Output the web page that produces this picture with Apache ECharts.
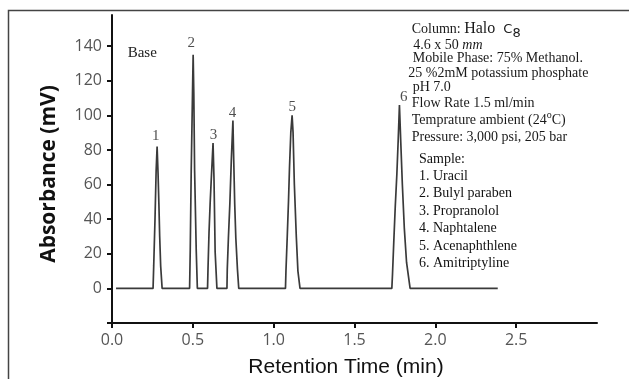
<!DOCTYPE html>
<html><head><meta charset="utf-8">
<script src="https://cdn.jsdelivr.net/npm/echarts@6/dist/echarts.min.js"></script>
<style>html,body{margin:0;padding:0;background:#fff}#c{width:629px;height:379px}</style>
</head><body><div id="c"></div>
<script>
// Chromatogram trace (retention time in min, absorbance in mV)
const traceTime = [0.025,
  0.254,0.258,0.266,0.273,0.279,0.285,0.290,0.295,0.301,0.310,
  0.480,0.484,0.490,0.498,0.502,0.506,0.511,0.521,0.528,
  0.591,0.594,0.600,0.607,0.614,0.625,0.631,0.638,0.649,
  0.711,0.713,0.720,0.729,0.738,0.748,0.753,0.759,0.766,0.776,0.784,
  1.073,1.076,1.084,1.092,1.098,1.106,1.114,1.120,1.128,1.140,1.150,1.163,
  1.731,1.735,1.743,1.752,1.762,1.770,1.778,1.786,1.796,1.808,1.822,1.844,
  2.386];
const traceAbs = [0,
  0,13,40,68,82,66,49,30,13,0,
  0,22,68,113,135,113,68,22,0,
  0,12,32,49,63,84,63,21,0,
  0,11,29,49,74,97,74,49,29,11,0,
  0,10,30,51,70,90,100,90,60,30,10,0,
  0,8,27,47,66,85,106,85,60,35,15,0,
  0];
// Peak number labels
const peakNames = ['1','2','3','4','5','6'];
const peakLabelTime = [0.271,0.490,0.628,0.746,1.115,1.805];
const peakLabelAbs = [88,141.6,88.6,101.5,105,110.6];
// Axis ticks
const xTicks = [0,0.5,1.0,1.5,2.0,2.5];
const yTicks = [0,20,40,60,80,100,120,140];
const yTickMarks = [-20,0,20,40,60,80,100,120,140];
// Annotation text
const baseText = 'Base';
const infoLines = [
  '{t|Column: }{h|Halo }{c|C}{s|8}',
  '{t|4.6 x 50 }{i|mm}',
  '{t|Mobile Phase: 75% Methanol.}',
  '{t|25 %2mM potassium phosphate}',
  '{t|pH 7.0}',
  '{t|Flow Rate 1.5 ml/min}',
  '{t|Temprature ambient (24}{o|o}{t|C)}',
  '{t|Pressure: 3,000 psi, 205 bar}'
];
const sampleLines = ['Sample:','1. Uracil','2. Bulyl paraben','3. Propranolol','4. Naphtalene','5. Acenaphthlene','6. Amitriptyline'];

const trace = traceTime.map((t,i)=>[t, traceAbs[i]]);
const peakPts = peakNames.map((n,i)=>({value:[peakLabelTime[i], peakLabelAbs[i]], name:n}));

const infoX = [411.7,413.3,412.7,408.3,412.7,411.7,411.7,411.7];
const infoY = [29,45,58.3,73.3,87,103.3,120.5,137.7];
const serif = '"Liberation Serif", "Times New Roman", serif';
const graphic = [
  {type:'polyline', shape:{points:[[8.5,379],[8.5,10.5],[629,10.5]]}, style:{stroke:'#444', lineWidth:1.5, fill:null}, silent:true},
  {type:'text', x:127.7, y:52.7, style:{text:baseText, font:'15px '+serif, fill:'#222', verticalAlign:'middle', align:'left'}}
];
infoLines.forEach((s,i)=>{
  graphic.push({type:'text', x:infoX[i], y:infoY[i], style:{
    text:s, verticalAlign:'middle', align:'left',
    rich:{
      t:{fontFamily:serif, fontSize:14, fill:'#1a1a1a'},
      h:{fontFamily:serif, fontSize:16, fill:'#1a1a1a'},
      i:{fontFamily:serif, fontSize:14, fontStyle:'italic', fill:'#1a1a1a'},
      c:{fontFamily:'"DejaVu Sans", sans-serif', fontSize:13, fill:'#1a1a1a', padding:[2,0,0,4]},
      s:{fontFamily:'"DejaVu Sans", sans-serif', fontSize:13, fill:'#1a1a1a', padding:[10,0,0,0]},
      o:{fontFamily:serif, fontSize:10, fill:'#1a1a1a', padding:[0,0,10,0]}
    }}});
});
sampleLines.forEach((s,i)=>{
  graphic.push({type:'text', x:419, y:159 + i*17.4, style:{text:s, font:'14px '+serif, fill:'#111', verticalAlign:'middle', align:'left'}});
});

const chart = echarts.init(document.getElementById('c'), null, {renderer:'canvas'});
chart.setOption({
  animation:false,
  backgroundColor:'#fff',
  grid:{left:112, right:32, top:15, bottom:56, containLabel:false, outerBoundsMode:'none'},
  xAxis:{
    type:'value', min:0, max:3.0,
    name:'Retention Time (min)', nameLocation:'middle', nameGap:34,
    nameTextStyle:{fontFamily:'"Liberation Sans", Arial, sans-serif', fontSize:21, color:'#111', padding:[0,17,0,0]},
    axisLine:{show:true, onZero:false, lineStyle:{color:'#111', width:2}},
    axisTick:{show:true, length:5, lineStyle:{color:'#111', width:2}, customValues:xTicks},
    axisLabel:{customValues:xTicks, formatter:v=>v.toFixed(1), fontFamily:'"Open Sans", sans-serif', fontSize:16, color:'#555', margin:9},
    splitLine:{show:false}
  },
  yAxis:{
    type:'value', min:-20, max:158,
    name:'Absorbance (mV)', nameLocation:'middle', nameGap:52,
    nameTextStyle:{fontFamily:'"Open Sans", sans-serif', fontWeight:'bold', fontSize:21, color:'#111', padding:[0,10,0,0]},
    axisLine:{show:true, onZero:false, lineStyle:{color:'#111', width:2}},
    axisTick:{show:true, length:5, lineStyle:{color:'#111', width:2}, customValues:yTickMarks},
    axisLabel:{customValues:yTicks, fontFamily:'"Open Sans", sans-serif', fontSize:16, color:'#555', margin:10},
    splitLine:{show:false}
  },
  series:[
    {type:'line', data:trace, symbol:'none', lineStyle:{color:'#3a3a3a', width:1.7}, silent:true},
    {type:'scatter', data:peakPts, symbolSize:0, silent:true,
     label:{show:true, position:'inside', formatter:p=>p.name, fontFamily:serif, fontSize:15, color:'#222'}}
  ],
  graphic:graphic
});
</script></body></html>
